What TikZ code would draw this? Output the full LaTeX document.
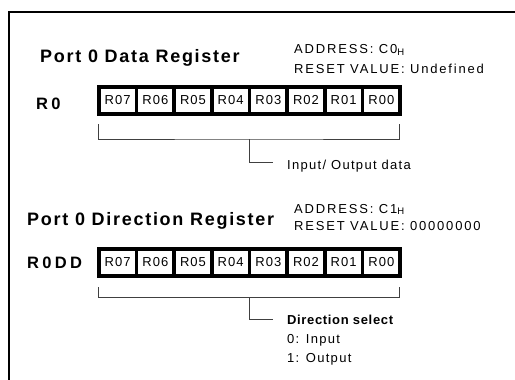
\documentclass[tikz,border=0pt]{standalone}
\usepackage{fontspec}
\setmainfont{Liberation Sans}
\newfontfamily\titlef[LetterSpace=9.5]{Liberation Sans}
\newfontfamily\smallf[LetterSpace=10]{Liberation Sans}
\newfontfamily\capsf[LetterSpace=14]{Liberation Sans}
\newfontfamily\boldf[LetterSpace=5]{Liberation Sans}
\newfontfamily\cellf[LetterSpace=8]{Liberation Sans}
\newfontfamily\regf[LetterSpace=20]{Liberation Sans}
\newcommand{\subH}{\raisebox{-1.5pt}{\fontsize{9.5}{9.5}\selectfont H}}
\begin{document}
\begin{tikzpicture}[x=1pt,y=-1pt,
  ttl/.style={anchor=base west, inner sep=0pt, font=\titlef\fontsize{18}{20}\selectfont\bfseries},
  regname/.style={anchor=base west, inner sep=0pt, font=\regf\fontsize{16.5}{20}\selectfont\bfseries},
  info/.style={anchor=base west, inner sep=0pt, font=\smallf\fontsize{13}{15}\selectfont},
  addr/.style={anchor=base west, inner sep=0pt, font=\capsf\fontsize{13}{15}\selectfont},
  infob/.style={anchor=base west, inner sep=0pt, font=\boldf\fontsize{13}{15}\selectfont\bfseries},
  cell/.style={draw=black, fill=white, line width=3.7pt, minimum width=37.66pt, minimum height=27.3pt,
               inner sep=0pt, outer sep=0pt, font=\cellf\fontsize{13}{15}\selectfont},
  brk/.style={draw=black!75, line width=0.9pt}]
\useasboundingbox (0,0) rectangle (515,380);
\draw[line width=2pt] (9,381) -- (9,12.3) -- (516,12.3);

% ---- Port 0 Data Register ----
\node[ttl] (t1) at (40,63) {Port 0 Data Register};
\node[addr] (a1) at (294,53.5) {ADDRESS: C0\subH};
\node[addr] (r1) at (294,73) {RESET VALUE: Undefined};
\node[regname] (n1) at (36,109) {R0};
\foreach \i [count=\k from 0] in {7,6,5,4,3,2,1,0}
  \node[cell] (p\i) at ({98.85+37.66*(\k+0.5)},100.5) {R0\i};
\coordinate (b1l) at (98.5,124);
\coordinate (b1r) at (399.5,124);
\coordinate (b1c) at (249,139);
\coordinate (b1e) at (273,162.5);
\draw[brk] (b1l) |- (b1c) -| (b1r);
\draw[brk] (b1c) |- (b1e);
\node[info] (l1) at (287,169) {Input/ Output data};

% ---- Port 0 Direction Register ----
\node[ttl] (t2) at (27,225) {Port 0 Direction Register};
\node[addr] (a2) at (294,213) {ADDRESS: C1\subH};
\node[addr] (r2) at (294,230.5) {RESET VALUE: 00000000};
\node[regname] (n2) at (27,268) {R0DD};
\foreach \i [count=\k from 0] in {7,6,5,4,3,2,1,0}
  \node[cell] (d\i) at ({98.85+37.66*(\k+0.5)},262.5) {R0\i};
\coordinate (b2l) at (98.5,287);
\coordinate (b2r) at (399.5,287);
\coordinate (b2c) at (249,297.5);
\coordinate (b2e) at (273,319.5);
\draw[brk] (b2l) |- (b2c) -| (b2r);
\draw[brk] (b2c) |- (b2e);
\node[infob] (l2) at (287,324) {Direction select};
\node[info] (l3) at (287,343) {0: Input};
\node[info] (l4) at (287,362) {1: Output};
\end{tikzpicture}
\end{document}
